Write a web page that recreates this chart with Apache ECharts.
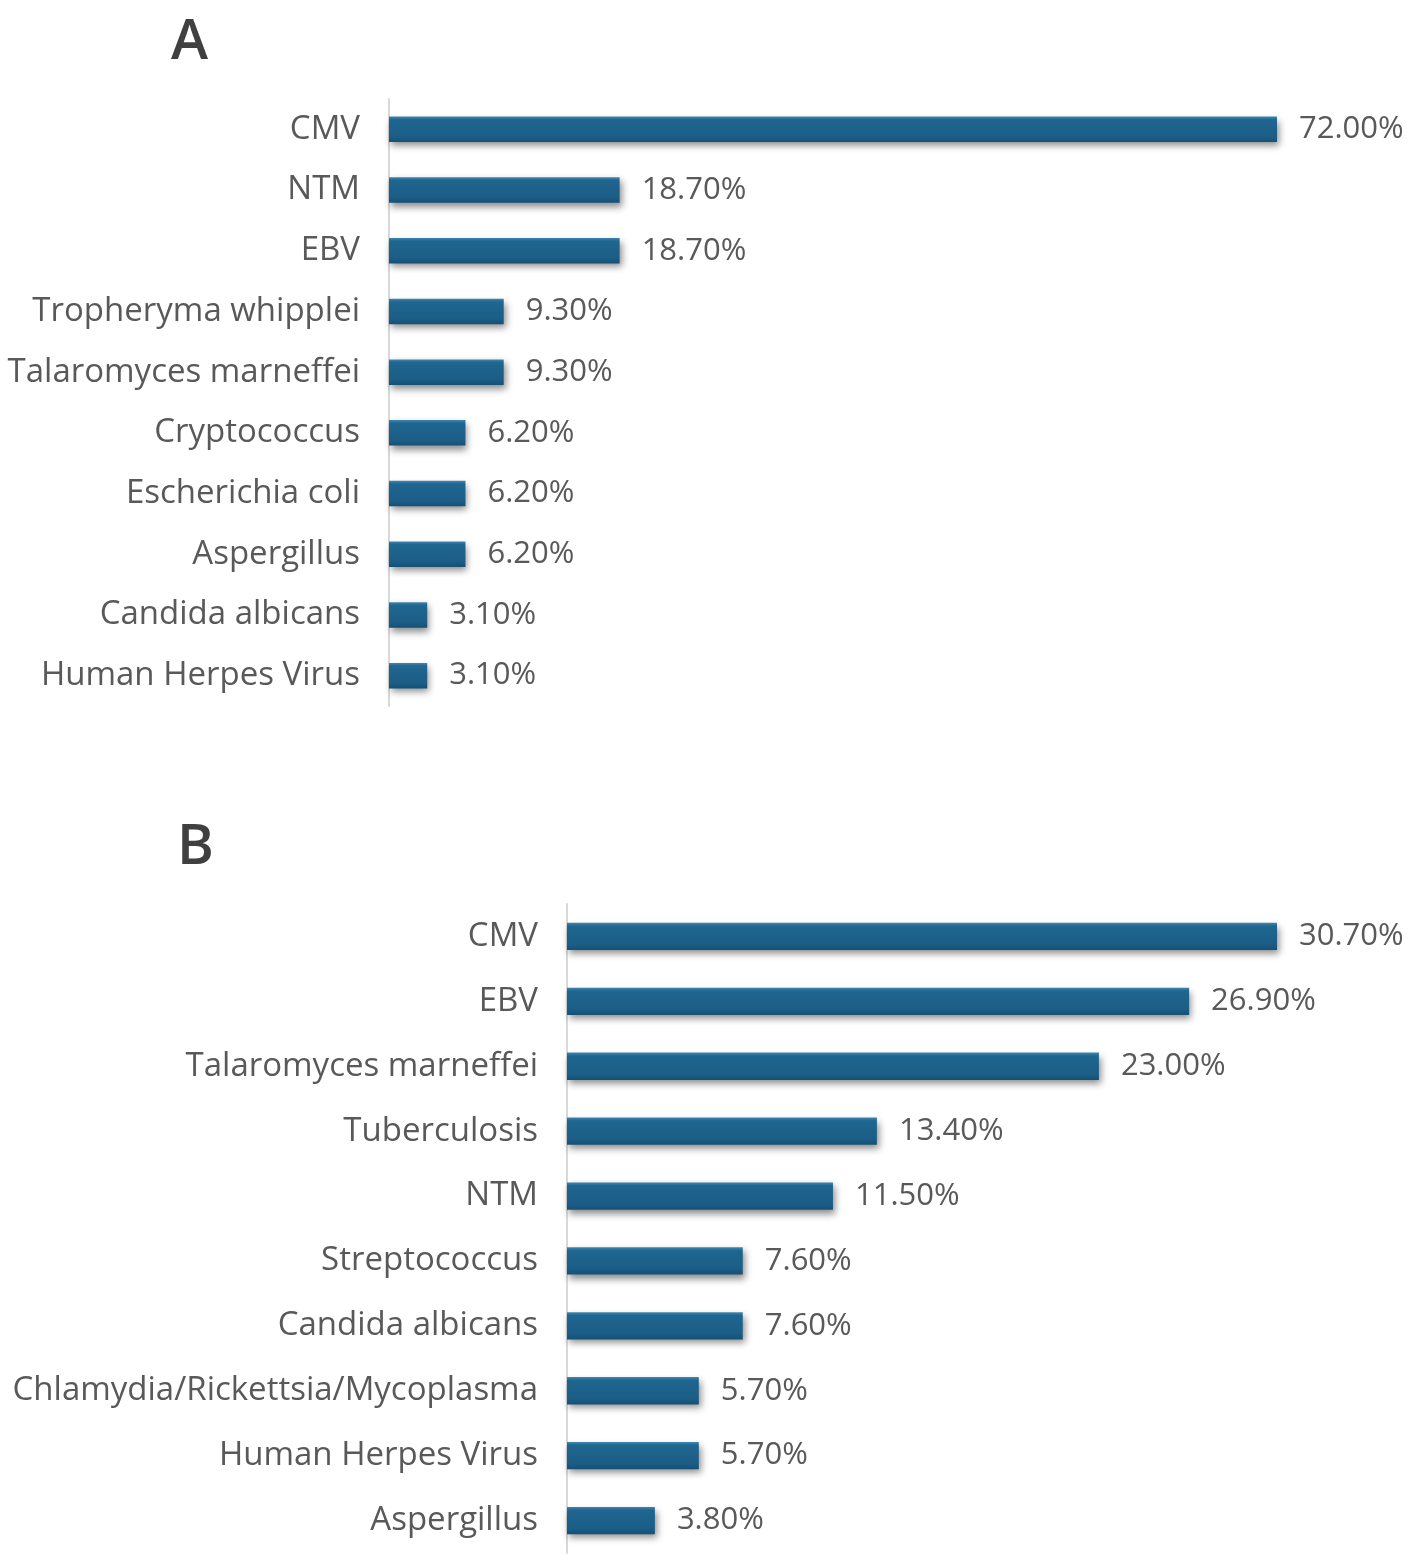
<!DOCTYPE html>
<html>
<head>
<meta charset="utf-8">
<script src="https://cdn.jsdelivr.net/npm/echarts@6/dist/echarts.min.js"></script>
<style>
  html, body { margin: 0; padding: 0; background: #fff; }
  #chart { width: 1418px; height: 1567px; }
</style>
</head>
<body>
<div id="chart"></div>
<script>
// panel A
const catsA = ["CMV", "NTM", "EBV", "Tropheryma whipplei", "Talaromyces marneffei",
  "Cryptococcus", "Escherichia coli", "Aspergillus", "Candida albicans", "Human Herpes Virus"];
const valsA = [72.0, 18.7, 18.7, 9.3, 9.3, 6.2, 6.2, 6.2, 3.1, 3.1];

// panel B
const catsB = ["CMV", "EBV", "Talaromyces marneffei", "Tuberculosis", "NTM", "Streptococcus",
  "Candida albicans", "Chlamydia/Rickettsia/Mycoplasma", "Human Herpes Virus", "Aspergillus"];
const valsB = [30.7, 26.9, 23.0, 13.4, 11.5, 7.6, 7.6, 5.7, 5.7, 3.8];

const FONT = "'Open Sans', 'Noto Sans', sans-serif";
const txt = "#595959";

const barColor = new echarts.graphic.LinearGradient(0, 0, 0, 1, [
  { offset: 0, color: "#3f86b0" },
  { offset: 0.12, color: "#1f6690" },
  { offset: 0.8, color: "#1b5d86" },
  { offset: 1, color: "#155074" }
]);

const chart = echarts.init(document.getElementById("chart"), null, { renderer: "canvas" });

function yAx(idx, cats) {
  return {
    type: "category",
    gridIndex: idx,
    data: cats,
    inverse: true,
    axisLine: { show: true, lineStyle: { color: "#d9d9d9", width: 2 } },
    axisTick: { show: false },
    axisLabel: { color: txt, fontSize: 33, fontFamily: FONT, margin: 29, padding: [5, 0, 0, 0] }
  };
}

function xAx(idx, max) {
  return {
    type: "value",
    gridIndex: idx,
    min: 0,
    max: max,
    show: false,
    splitLine: { show: false }
  };
}

function barSeries(idx, vals) {
  return {
    type: "bar",
    xAxisIndex: idx,
    yAxisIndex: idx,
    data: vals,
    barWidth: "42%",
    itemStyle: {
      color: barColor,
      shadowColor: "rgba(0,0,0,0.45)",
      shadowBlur: 7,
      shadowOffsetX: 2,
      shadowOffsetY: 4
    },
    label: {
      show: true,
      position: "right",
      distance: 22,
      color: txt,
      fontSize: 31,
      fontFamily: FONT,
      padding: [5, 0, 0, 0],
      formatter: p => p.value.toFixed(2) + "%"
    },
    silent: true
  };
}

chart.setOption({
  backgroundColor: "#fff",
  animation: false,
  grid: [
    { left: 389, top: 99, width: 888, height: 607 },
    { left: 567, top: 904, width: 710, height: 649 }
  ],
  xAxis: [xAx(0, 72), xAx(1, 30.7)],
  yAxis: [yAx(0, catsA), yAx(1, catsB)],
  graphic: [
    { type: "text", left: 171, top: 15, style: { text: "A", fontSize: 56, fontWeight: 600, fill: "#404040", fontFamily: FONT } },
    { type: "text", left: 177, top: 820, style: { text: "B", fontSize: 56, fontWeight: 600, fill: "#404040", fontFamily: FONT } }
  ],
  series: [barSeries(0, valsA), barSeries(1, valsB)]
});
</script>
</body>
</html>
